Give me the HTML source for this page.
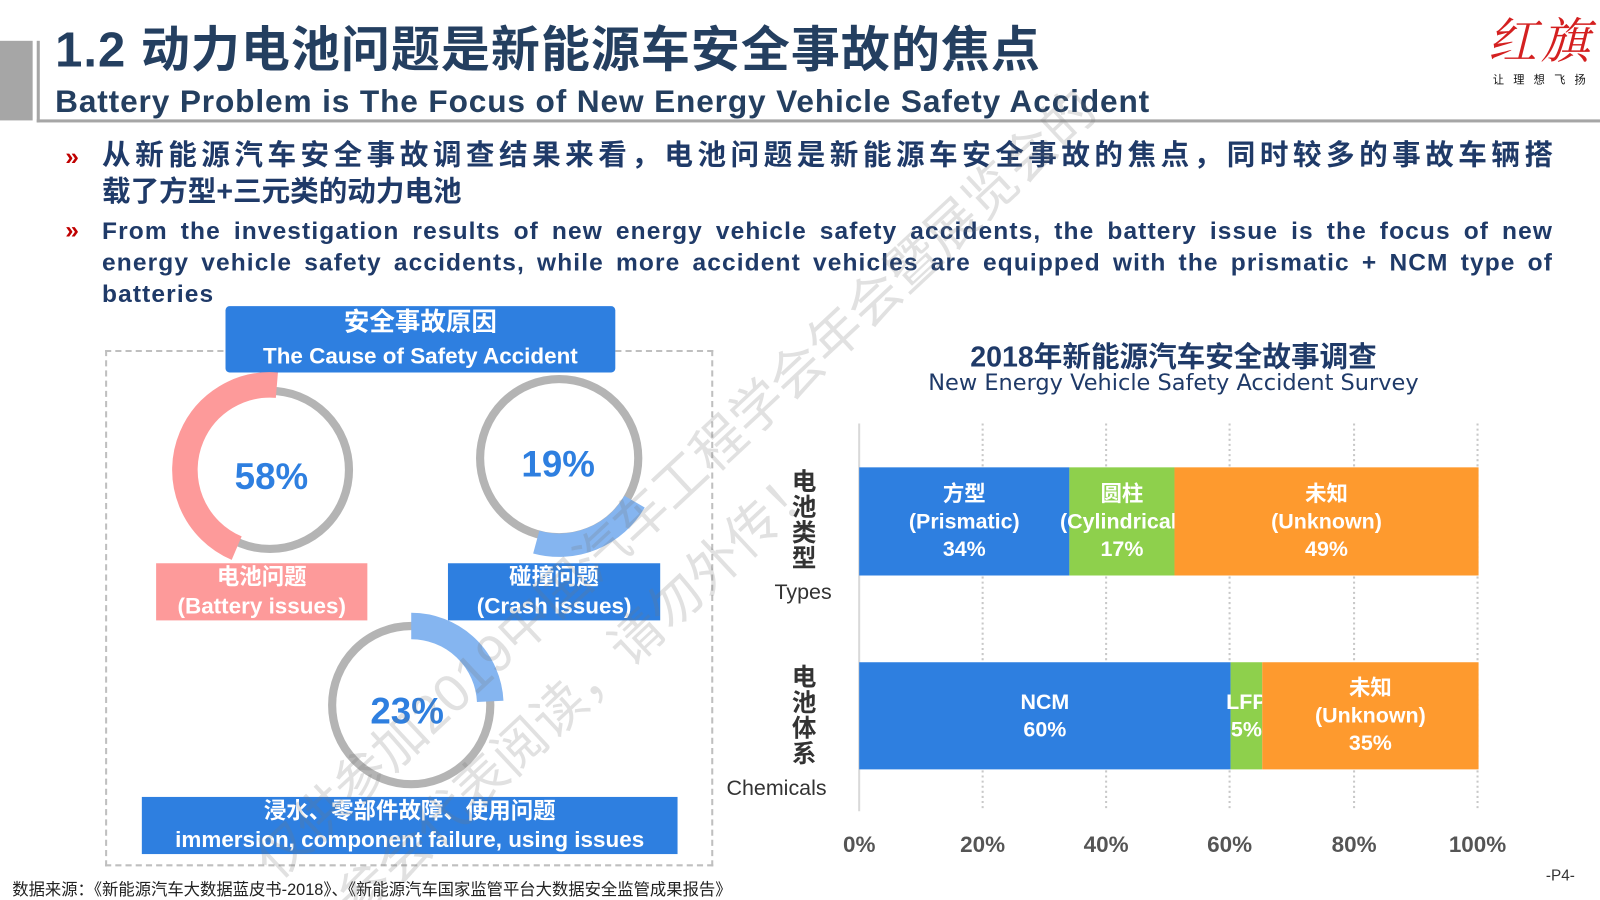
<!DOCTYPE html>
<html><head><meta charset="utf-8"><style>
html,body{margin:0;padding:0;background:#fff;overflow:hidden}
#w{width:1600px;height:900px;overflow:hidden;position:relative}
#p{width:1568px;height:882px;position:absolute;left:0;top:0;transform:scale(1.0204);transform-origin:0 0;font-family:"Liberation Sans","Noto Sans CJK SC",sans-serif}
.a{position:absolute}
.t{color:#243f60;font-weight:bold;white-space:nowrap}
.b{color:#1f3a68;font-weight:bold;font-size:28px;line-height:36px}
.e{color:#1f3a68;font-weight:bold;font-size:24px;line-height:31px;text-align:justify;text-align-last:left;letter-spacing:1.1px}
.lab{position:absolute;color:#fff;text-align:center;font-weight:bold;line-height:26px}
.seg{position:absolute;color:#fff;font-weight:bold;font-size:21px;line-height:27px;text-align:center;display:flex;align-items:center;justify-content:center}
</style></head><body><div id="w"><div id="p">
<div class="a" style="left:0;top:40px;width:32px;height:78px;background:#a6a6a6"></div>
<div class="a" style="left:36px;top:40px;width:3px;height:80px;background:#a6a6a6"></div>
<div class="a" style="left:36px;top:117px;width:1532px;height:3px;background:#a6a6a6"></div>
<div class="a t" style="left:54px;top:22px;font-size:48px;line-height:56px;letter-spacing:1px">1.2 动力电池问题是新能源车安全事故的焦点</div>
<div class="a t" style="left:54px;top:82px;font-size:31px;line-height:36px;letter-spacing:0.85px">Battery Problem is The Focus of New Energy Vehicle Safety Accident</div>
<div class="a" style="left:1458px;top:2px;color:#d42020;font-size:48px;font-family:'Noto Serif CJK SC',serif;font-style:italic;letter-spacing:4px;white-space:nowrap">红旗</div>
<div class="a" style="left:1463px;top:70px;font-size:11px;letter-spacing:9px;color:#111;white-space:nowrap">让理想飞扬</div>
<div class="a" style="left:64px;top:140px;color:#c00000;font-weight:bold;font-size:24px">»</div>
<div class="a b" style="left:100px;top:134px;width:1422px">
<div style="text-align:justify;text-align-last:justify;white-space:nowrap">从新能源汽车安全事故调查结果来看，电池问题是新能源车安全事故的焦点，同时较多的事故车辆搭</div>
<div>载了方型+三元类的动力电池</div></div>
<div class="a" style="left:64px;top:212px;color:#c00000;font-weight:bold;font-size:24px">»</div>
<div class="a e" style="left:100px;top:211px;width:1422px">From the investigation results of new energy vehicle safety accidents, the battery issue is the focus of new energy vehicle safety accidents, while more accident vehicles are equipped with the prismatic + NCM type of batteries</div>
<div class="a" style="left:103px;top:343px;width:592px;height:502px;border:2px dashed #bfbfbf"></div>
<div class="lab" style="left:221px;top:300px;width:382px;height:65px;background:#2e7fe0;border-radius:4px;font-size:25px;line-height:32px">安全事故原因<br><span style="font-size:22px">The Cause of Safety Accident</span></div>
<svg class="a" style="left:0;top:0" width="760" height="880">
<circle cx="264.5" cy="460.5" r="77.5" fill="none" stroke="#b4b4b4" stroke-width="8"/>
<circle cx="264.5" cy="460.5" r="83.3" fill="none" stroke="#fd9a9a" stroke-width="25" stroke-dasharray="235 524" transform="rotate(113 264.5 460.5)"/>
<circle cx="548" cy="449" r="77.5" fill="none" stroke="#b4b4b4" stroke-width="8"/>
<circle cx="548" cy="449" r="85.3" fill="none" stroke="#85b5f0" stroke-width="23" stroke-dasharray="112 536" transform="rotate(30 548 449)"/>
<circle cx="403" cy="691" r="77.5" fill="none" stroke="#b4b4b4" stroke-width="8"/>
<circle cx="403" cy="691" r="77.5" fill="none" stroke="#85b5f0" stroke-width="26" stroke-dasharray="118 487" transform="rotate(-90 403 691)"/>
<text x="266" y="479" text-anchor="middle" font-size="36" font-weight="bold" fill="#2e7fe0" font-family="Liberation Sans">58%</text>
<text x="547" y="467" text-anchor="middle" font-size="36" font-weight="bold" fill="#2e7fe0" font-family="Liberation Sans">19%</text>
<text x="399" y="709" text-anchor="middle" font-size="36" font-weight="bold" fill="#2e7fe0" font-family="Liberation Sans">23%</text>
</svg>
<div class="lab" style="left:153px;top:552px;width:207px;height:56px;background:#fd9a9a;font-size:22px;line-height:28px">电池问题<br>(Battery issues)</div>
<div class="lab" style="left:439px;top:552px;width:208px;height:56px;background:#2e7fe0;font-size:22px;line-height:28px">碰撞问题<br>(Crash issues)</div>
<div class="lab" style="left:139px;top:781px;width:525px;height:56px;background:#2e7fe0;font-size:22px;line-height:28px">浸水、零部件故障、使用问题<br>immersion, component failure, using issues</div>
<div class="a" style="left:840px;top:328px;width:620px;text-align:center;color:#1f3a68;font-weight:bold;font-size:28px">2018年新能源汽车安全故事调查</div>
<div class="a" style="left:840px;top:363px;width:620px;text-align:center;color:#1f3a68;font-size:22px;font-family:'DejaVu Sans',sans-serif">New Energy Vehicle Safety Accident Survey</div>
<svg class="a" style="left:0;top:0" width="1568" height="882">
<g stroke="#c8c8c8" stroke-width="2" stroke-dasharray="2 3">
<line x1="963" y1="415" x2="963" y2="795"/><line x1="1084" y1="415" x2="1084" y2="795"/><line x1="1205" y1="415" x2="1205" y2="795"/><line x1="1327" y1="415" x2="1327" y2="795"/><line x1="1448" y1="415" x2="1448" y2="795"/></g>
<line x1="842" y1="415" x2="842" y2="795" stroke="#d9d9d9" stroke-width="2"/>
</svg>
<div class="seg" style="left:842px;top:458px;width:206px;height:106px;background:#2e7fe0">方型<br>(Prismatic)<br>34%</div>
<div class="seg" style="left:1048px;top:458px;width:103px;height:106px;background:#8ed04c;white-space:nowrap">圆柱<br>(Cylindrical)<br>17%</div>
<div class="seg" style="left:1151px;top:458px;width:298px;height:106px;background:#fe9a2e">未知<br>(Unknown)<br>49%</div>
<div class="seg" style="left:842px;top:649px;width:364px;height:105px;background:#2e7fe0">NCM<br>60%</div>
<div class="seg" style="left:1206px;top:649px;width:31px;height:105px;background:#8ed04c">LFP<br>5%</div>
<div class="seg" style="left:1237px;top:649px;width:212px;height:105px;background:#fe9a2e">未知<br>(Unknown)<br>35%</div>
<div class="a" style="left:776px;top:460px;width:28px;font-size:24px;line-height:25px;font-weight:bold;color:#333">电池类型</div>
<div class="a" style="left:759px;top:569px;font-size:21px;color:#333">Types</div>
<div class="a" style="left:776px;top:652px;width:28px;font-size:24px;line-height:25px;font-weight:bold;color:#333">电池体系</div>
<div class="a" style="left:712px;top:761px;font-size:21px;color:#333">Chemicals</div>
<div class="a" style="left:792px;top:815px;width:700px;height:28px;color:#555;font-size:22px;font-weight:bold">
<span class="a" style="left:50px;transform:translateX(-50%)">0%</span><span class="a" style="left:171px;transform:translateX(-50%)">20%</span><span class="a" style="left:292px;transform:translateX(-50%)">40%</span><span class="a" style="left:413px;transform:translateX(-50%)">60%</span><span class="a" style="left:535px;transform:translateX(-50%)">80%</span><span class="a" style="left:656px;transform:translateX(-50%)">100%</span></div>
<div class="a" style="left:12px;top:858px;font-size:16px;color:#222;white-space:nowrap">数据来源：《新能源汽车大数据蓝皮书-2018》、《新能源汽车国家监管平台大数据安全监管成果报告》</div>
<div class="a" style="left:1515px;top:850px;font-size:15px;color:#333">-P4-</div>
<div class="a" style="font-size:52px;color:rgba(120,120,120,0.22);transform:rotate(-43deg);transform-origin:0 0;white-space:nowrap;left:230px;top:820px">仅供参加2019中国汽车工程学会年会暨展览会的</div>
<div class="a" style="font-size:52px;color:rgba(120,120,120,0.22);transform:rotate(-43deg);transform-origin:0 0;white-space:nowrap;left:310px;top:860px">参会代表阅读，请勿外传！</div>
</div></div></body></html>
